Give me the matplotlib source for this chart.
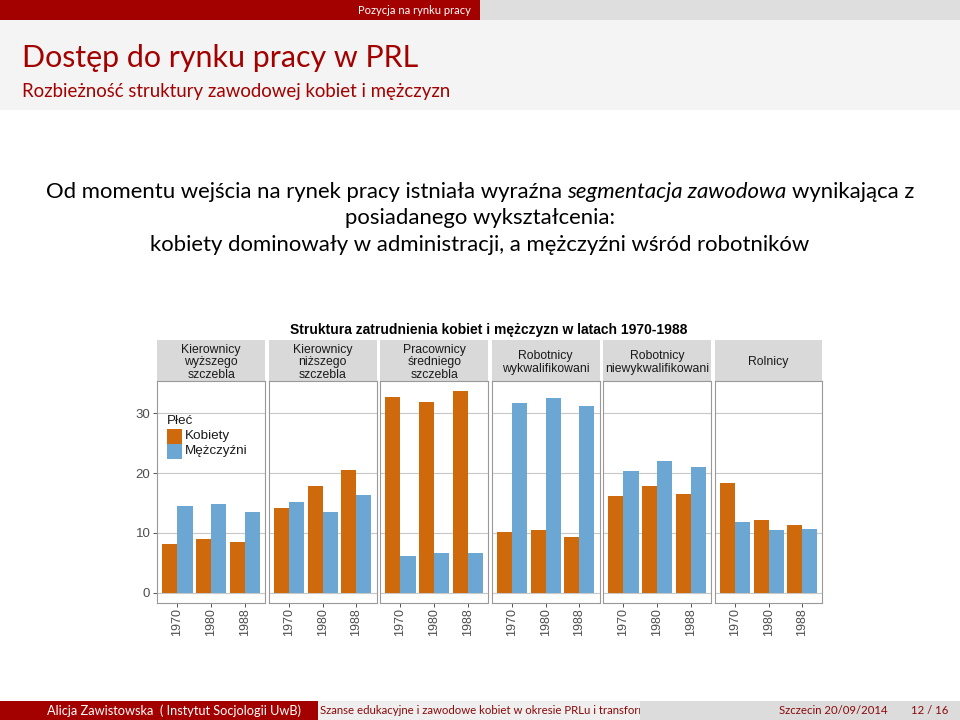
import numpy as np
import matplotlib
matplotlib.use("Agg")
import matplotlib.pyplot as plt
from matplotlib.patches import Rectangle
from matplotlib.transforms import Bbox, TransformedBbox

# dane (% zatrudnionych)
grupy = ["Kierownicy\nwyższego\nszczebla", "Kierownicy\nniższego\nszczebla",
         "Pracownicy\nśredniego\nszczebla", "Robotnicy\nwykwalifikowani",
         "Robotnicy\nniewykwalifikowani", "Rolnicy"]
lata = ["1970", "1980", "1988"]
kobiety = [[8.1, 9.0, 8.5], [14.2, 17.9, 20.5], [32.7, 31.9, 33.8],
           [10.2, 10.5, 9.3], [16.2, 17.9, 16.5], [18.3, 12.1, 11.4]]
mezczyzni = [[14.5, 14.8, 13.5], [15.2, 13.5, 16.4], [6.1, 6.7, 6.6],
             [31.8, 32.6, 31.2], [20.4, 22.1, 21.0], [11.9, 10.5, 10.6]]
plec = ["Kobiety", "Mężczyźni"]
y_ticks = [0, 10, 20, 30]

C_K = "#CF6A0C"
C_M = "#6CA6D3"
RED = "#A30000"
DARKRED = "#8B0A0A"
CH = "Liberation Sans"
SL = "Lato"

W, H = 960, 720
fig = plt.figure(figsize=(W / 100, H / 100), dpi=100)


def rect(x, y, w, h):
    # piksele (od lewego gornego rogu) -> wspolrzedne figury
    return [x / W, 1 - (y + h) / H, w / W, h / H]


# tlo slajdu w pikselach
bg = fig.add_axes([0, 0, 1, 1], zorder=0)
bg.set_xlim(0, W)
bg.set_ylim(H, 0)
bg.axis("off")

bg.add_patch(Rectangle((0, 0), 480, 20, color=RED, lw=0))
bg.add_patch(Rectangle((480, 0), 480, 20, color="#DEDEDE", lw=0))
bg.add_patch(Rectangle((0, 20), 960, 90, color="#F4F4F4", lw=0))
bg.text(471, 10, "Pozycja na rynku pracy", color="white", fontsize=8, family=SL,
        ha="right", va="center")
bg.text(22, 58, "Dostęp do rynku pracy w PRL", color=RED, fontsize=21.9, family=SL,
        va="center")
bg.text(22, 92, "Rozbieżność struktury zawodowej kobiet i mężczyzn", color=RED,
        fontsize=13.4, family=SL, va="center")

# stopka
bg.add_patch(Rectangle((0, 701), 318, 19, color=RED, lw=0))
bg.add_patch(Rectangle((318, 701), 322, 19, color="#EFEFEF", lw=0))
bg.add_patch(Rectangle((640, 701), 320, 19, color="#DCDCDC", lw=0))
bg.text(174, 711, "Alicja Zawistowska  ( Instytut Socjologii UwB)", color="white",
        fontsize=9.2, family=SL, ha="center", va="center")
t = bg.text(320, 711, "Szanse edukacyjne i zawodowe kobiet w okresie PRLu i transformacji",
            color=DARKRED, fontsize=8.2, family=SL, va="center", clip_on=True)
t.set_clip_box(TransformedBbox(Bbox([[318, 701], [640, 720]]), bg.transData))
bg.text(779, 711, "Szczecin 20/09/2014", color=DARKRED, fontsize=8.2, family=SL,
        va="center")
bg.text(948, 711, "12 / 16", color=DARKRED, fontsize=8.2, family=SL,
        ha="right", va="center")

# tekst glowny (z kursywa w srodku)
FS = 15.9
linia1 = [("Od momentu wejścia na rynek pracy istniała wyraźna", "normal"),
          ("segmentacja zawodowa", "italic"),
          ("wynikająca z", "normal")]
rend = fig.canvas.get_renderer()


def szer(s, style="normal"):
    tt = bg.text(0, 0, s, fontsize=FS, family=SL, style=style)
    w = tt.get_window_extent(rend).width
    tt.remove()
    return w


spacja = szer("x x") - szer("xx")
szer_cz = [szer(s, st) for s, st in linia1]
x = 480 - (sum(szer_cz) + spacja * (len(linia1) - 1)) / 2
for (s, st), w in zip(linia1, szer_cz):
    bg.text(x, 192, s, fontsize=FS, family=SL, style=st, va="center")
    x += w + spacja
bg.text(480, 218, "posiadanego wykształcenia:", fontsize=FS, family=SL,
        ha="center", va="center")
bg.text(480, 245, "kobiety dominowały w administracji, a mężczyźni wśród robotników",
        fontsize=FS, family=SL, ha="center", va="center")

# wykres
bg.text(489, 330, "Struktura zatrudnienia kobiet i mężczyzn w latach 1970-1988",
        fontsize=10.0, family=CH, weight="bold", ha="center", va="center")

x0, pitch, pw = 157.3, 111.5, 107.7
top, ph = 380.7, 222.0
xs = np.arange(1, len(lata) + 1)
bw = 0.45

for i, g in enumerate(grupy):
    px = x0 + i * pitch
    st = fig.add_axes(rect(px, 340, pw, top - 340), zorder=1)
    st.set_facecolor("#D9D9D9")
    st.set_xticks([])
    st.set_yticks([])
    for s in st.spines.values():
        s.set_visible(False)
    st.text(0.5, 0.45, g, transform=st.transAxes, ha="center", va="center",
            fontsize=8.8, family=CH, color="#1A1A1A", linespacing=1.08)

    ax = fig.add_axes(rect(px, top, pw, ph), zorder=1)
    ax.bar(xs - bw / 2, kobiety[i], bw, color=C_K, zorder=2)
    ax.bar(xs + bw / 2, mezczyzni[i], bw, color=C_M, zorder=2)
    ax.set_xlim(0.4, 3.6)
    ax.set_ylim(-1.69, 35.49)
    ax.set_yticks(y_ticks)
    ax.set_xticks(xs)
    ax.set_xticklabels(lata, rotation=90, family=CH, fontsize=9, color="#4D4D4D")
    ax.grid(axis="y", color="#C8C8C8", lw=0.8, zorder=0)
    for s in ax.spines.values():
        s.set_color("#999999")
        s.set_linewidth(0.8)
    ax.tick_params(axis="x", length=3, width=0.7, color="#555555", pad=1)
    if i == 0:
        ax.set_yticklabels([str(v) for v in y_ticks], family=CH, fontsize=9.5,
                           color="#4D4D4D")
        ax.tick_params(axis="y", length=3, width=0.7, color="#555555", pad=2)
    else:
        ax.tick_params(axis="y", length=0, labelleft=False)

# legenda
ov = fig.add_axes([0, 0, 1, 1], zorder=3)
ov.set_xlim(0, W)
ov.set_ylim(H, 0)
ov.patch.set_alpha(0)
ov.axis("off")
ov.text(167, 421, "Płeć", fontsize=9.7, family=CH, color="#1A1A1A", va="center")
for k, (lab, c) in enumerate(zip(plec, [C_K, C_M])):
    ov.add_patch(Rectangle((166.5, 428.5 + k * 15), 15.5, 15, color=c, lw=0))
    ov.text(185, 436 + k * 15, lab, fontsize=9.7, family=CH, color="#1A1A1A",
            va="center")

fig.savefig("out.png", dpi=100, facecolor="white")
